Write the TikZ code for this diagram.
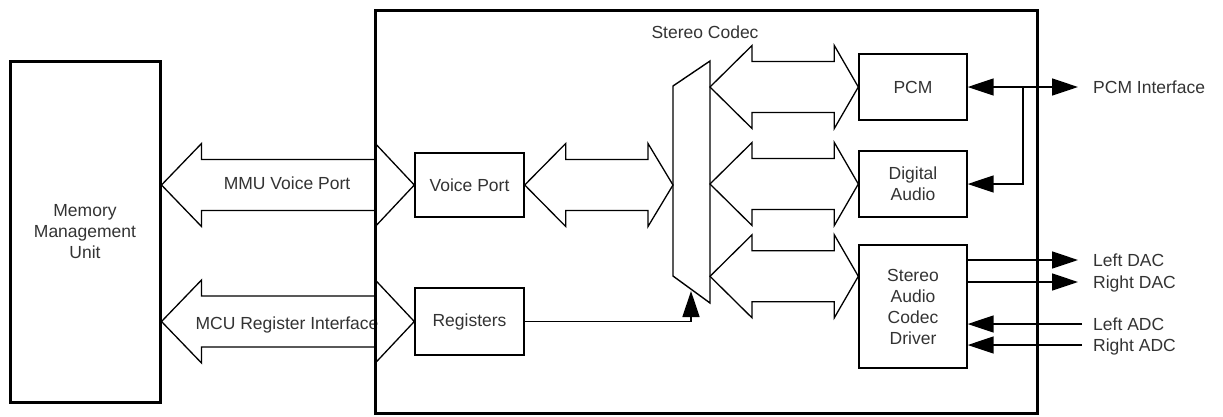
\documentclass[tikz,border=0pt]{standalone}
\usepackage{fontspec}
\setmainfont{Liberation Sans}
\usetikzlibrary{arrows.meta,calc}
\definecolor{txt}{rgb}{0.2,0.2,0.2}
\newcommand{\dfont}{\fontsize{17.5}{21}\selectfont}
\newcommand{\dbl}[4]{\draw[bus] (#1) -- ++(#3,-41.5) -- ++(0,16) -- ($(#2)+(-#4,-25.5)$) -- ++(0,-16) -- (#2) -- ++(-#4,41.5) -- ++(0,-16) -- ($(#1)+(#3,25.5)$) -- ++(0,16) -- cycle;}
\begin{document}
\begin{tikzpicture}[x=1pt,y=-1pt,
  box/.style={draw,line width=1.4pt,inner sep=0pt,align=center,font=\dfont,text=txt},
  bigbox/.style={draw,line width=3pt,inner sep=0pt,align=center,font=\dfont,text=txt},
  bus/.style={draw,line width=1.3pt,fill=white,line join=miter},
  sig/.style={line width=1.5pt,-{Triangle[length=26pt,width=17pt]}},
  sig2/.style={line width=1.5pt,{Triangle[length=26pt,width=17pt]}-{Triangle[length=26pt,width=17pt]}},
  lab/.style={font=\dfont,text=txt,inner sep=0pt,text height=12.6pt,text depth=0pt}]
\useasboundingbox (0,0) rectangle (1223,416);
% blocks
\node[bigbox,minimum width=150pt,minimum height=341pt] (mmu) at (85,231.5) {Memory\\Management\\Unit};
\node[box,minimum width=109pt,minimum height=64pt] (vp) at (469.5,185) {Voice Port};
\node[box,minimum width=109pt,minimum height=67pt] (reg) at (469.5,321.5) {Registers};
\node[box,minimum width=108pt,minimum height=66pt] (pcm) at (913,87) {PCM};
\node[box,minimum width=108pt,minimum height=66pt] (da) at (913,184) {Digital\\Audio};
\node[box,minimum width=108pt,minimum height=123pt] (sacd) at (913,306.5) {Stereo\\Audio\\Codec\\Driver};
% mux
\coordinate (m1) at (673,86);
\coordinate (m2) at (710,61);
\coordinate (m3) at (710,303);
\coordinate (m4) at (673,276);
\draw[line width=1.4pt,line join=miter] (m1) -- (m2) -- (m3) -- (m4) -- cycle;
\node[lab] (sc) at (705,32) {Stereo Codec};
% tips
\coordinate (mmuA) at (mmu.east |- vp.west);
\coordinate (mmuB) at (mmu.east |- reg.west);
\coordinate (muxin) at (m1 |- vp.west);
\coordinate (sin) at ($(sacd.north west)+(0,32)$);
\coordinate (o1) at (m2 |- pcm.west);
\coordinate (o2) at (m2 |- da.west);
\coordinate (o3) at (m2 |- sin);
% buses
\dbl{mmuA}{vp.west}{40}{39}
\dbl{mmuB}{reg.west}{40}{39}
\dbl{vp.east}{muxin}{41}{25}
\dbl{o1}{pcm.west}{42}{24}
\dbl{o2}{da.west}{42}{24}
\dbl{o3}{sin}{42}{24}
\node[lab] (mvp) at (287,183) {MMU Voice Port};
\node[lab] (mcu) at (287,323) {MCU Register Interface};
% outer box
\node[bigbox,minimum width=662pt,minimum height=403pt] (codec) at (706,211.5) {};
% control
\coordinate (ctl) at (691,291);
\draw[sig] (reg.east) -| (ctl);
% external signals
\node[lab,anchor=west] (pcmif) at (1093,87) {PCM Interface};
\node[lab,anchor=west] (ldac) at (1093,260) {Left DAC};
\node[lab,anchor=west] (rdac) at (1093,282) {Right DAC};
\node[lab,anchor=west] (ladc) at (1093,324) {Left ADC};
\node[lab,anchor=west] (radc) at (1093,345) {Right ADC};
\draw[sig2] (pcm.east) -- ($(pcmif.west)+(-15,0)$);
\coordinate (j) at (1023,0);
\draw[sig] (j |- pcm.east) |- (da.east);
\draw[sig] (sacd.east |- ldac.west) -- ($(ldac.west)+(-15,0)$);
\draw[sig] (sacd.east |- rdac.west) -- ($(rdac.west)+(-15,0)$);
\draw[sig] ($(ladc.west)+(-11,0)$) -- (sacd.east |- ladc.west);
\draw[sig] ($(radc.west)+(-11,0)$) -- (sacd.east |- radc.west);
\end{tikzpicture}
\end{document}
